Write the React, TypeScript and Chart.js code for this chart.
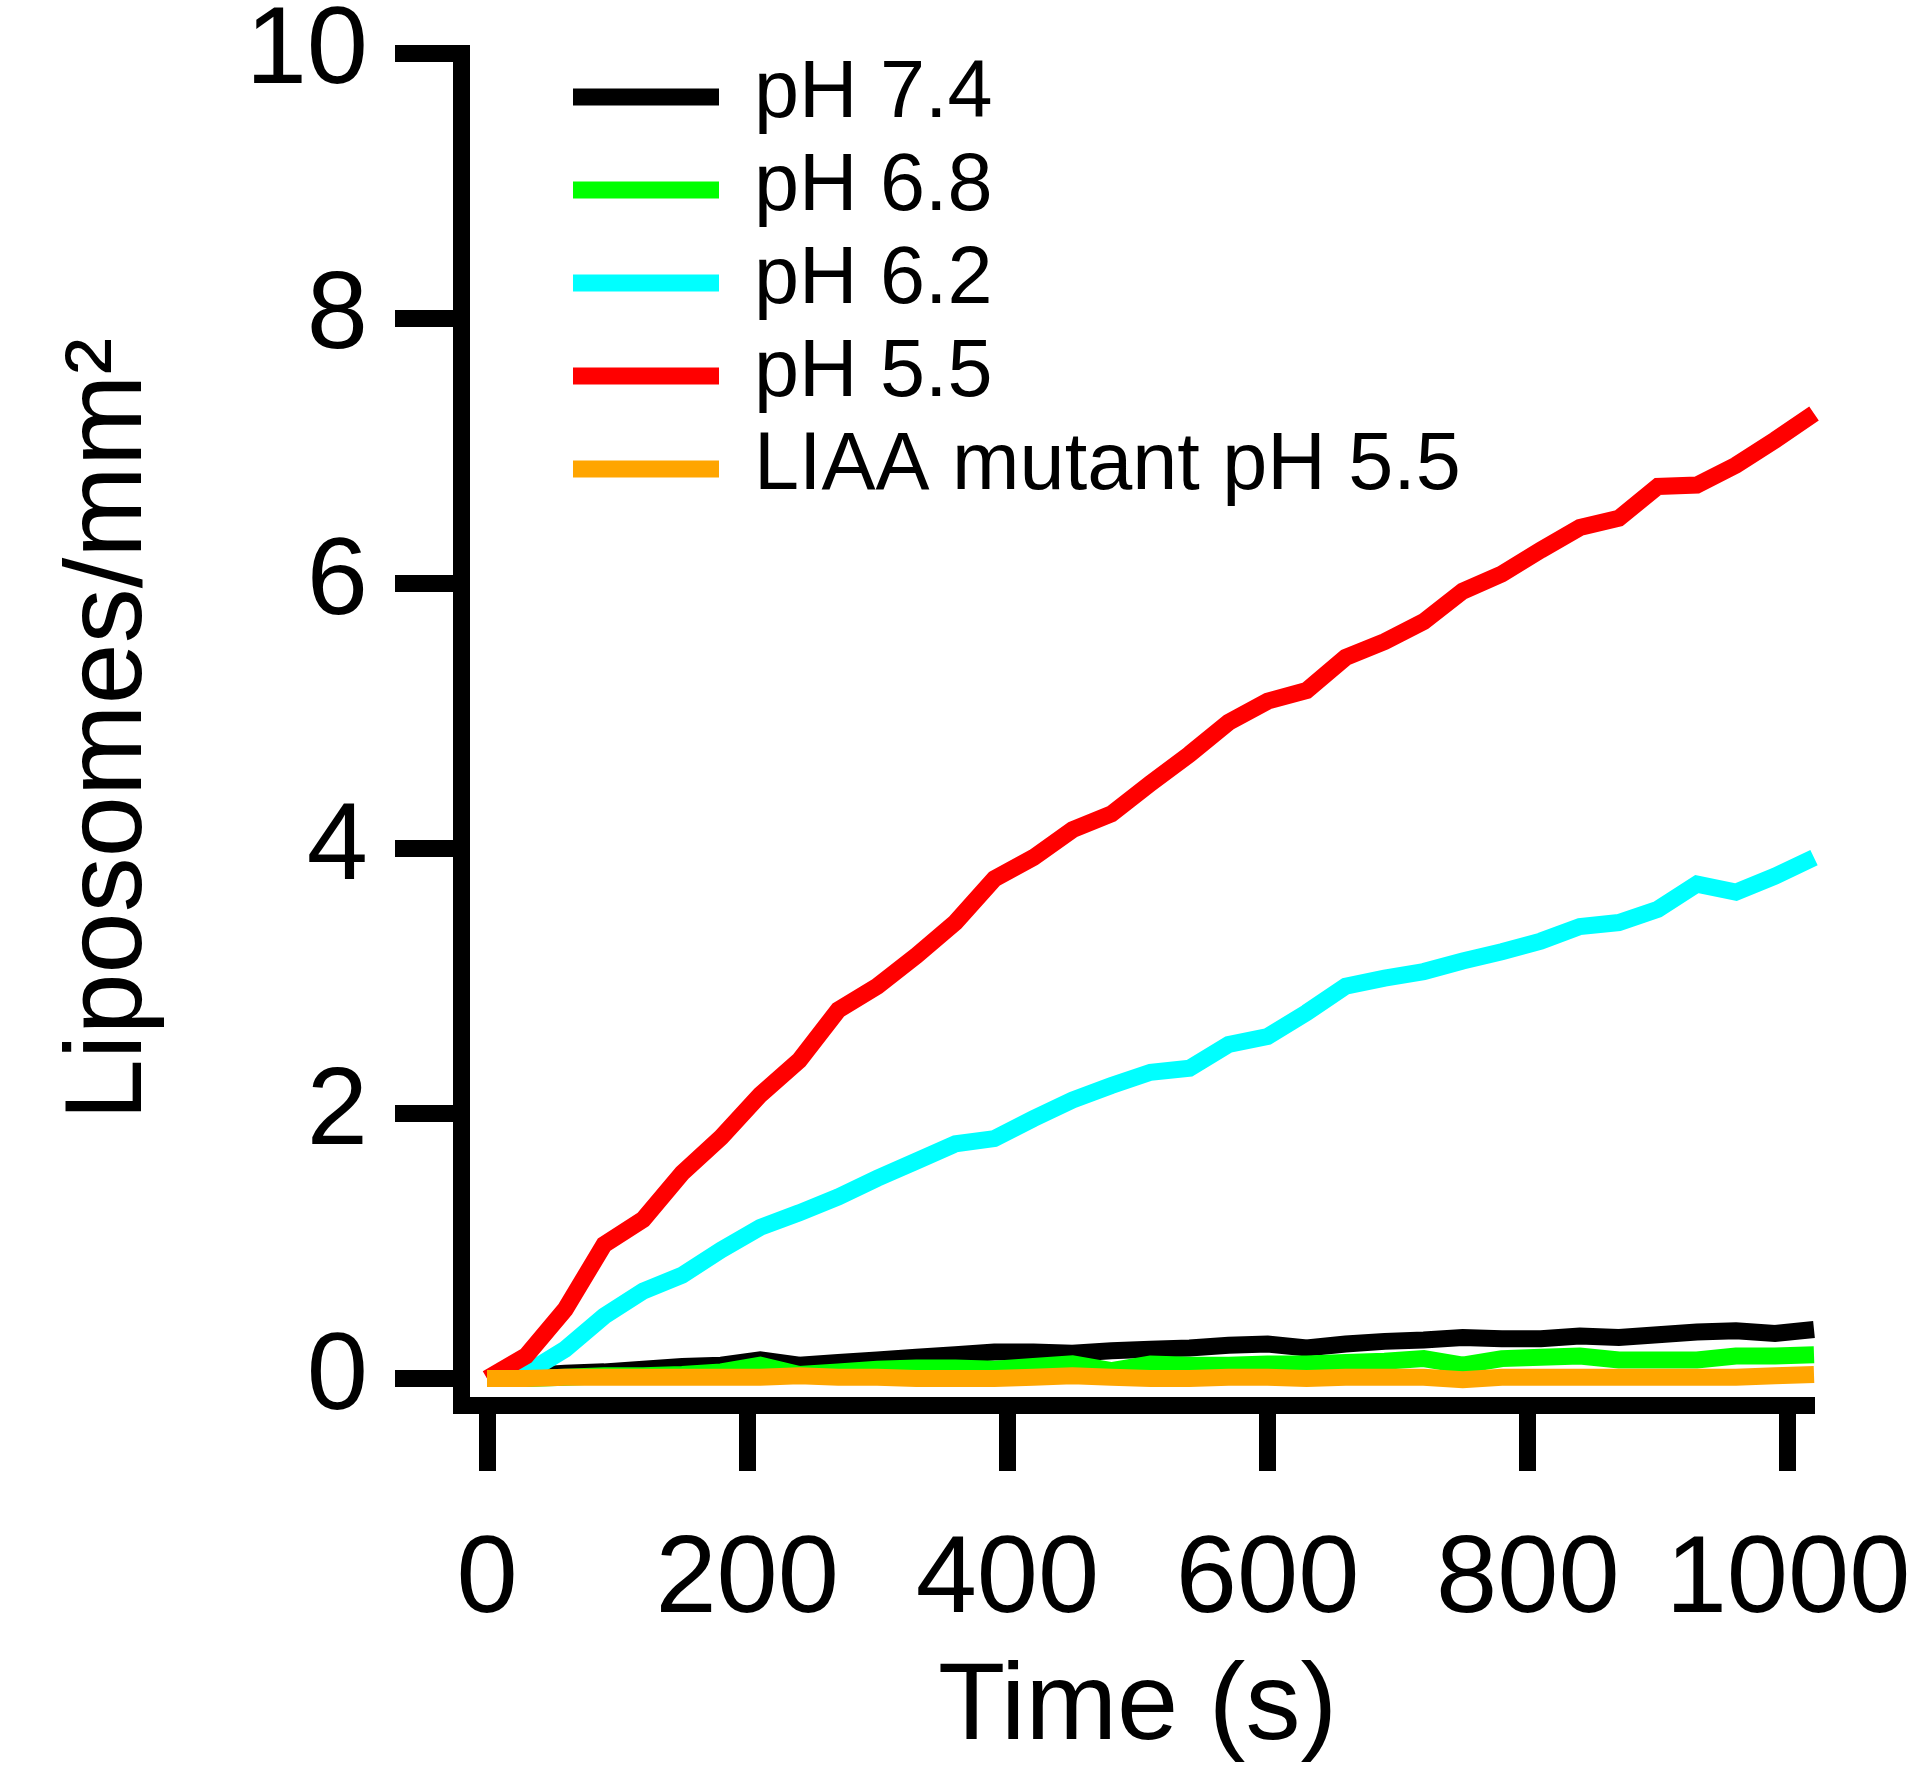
import React, { useEffect, useRef } from "react";
import { Chart, registerables } from "chart.js";

Chart.register(...registerables);

// ---- Data ----
const timeSeconds = [
  0, 30, 60, 90, 120, 150, 180, 210, 240, 270, 300, 330, 360, 390, 420, 450, 480, 510,
  540, 570, 600, 630, 660, 690, 720, 750, 780, 810, 840, 870, 900, 930, 960, 990, 1020,
];

const ph74 = [
  0, 0.02, 0.04, 0.05, 0.07, 0.09, 0.1, 0.14, 0.1, 0.12, 0.14, 0.16, 0.18, 0.2, 0.2, 0.19, 0.21, 0.22,
  0.23, 0.25, 0.26, 0.23, 0.26, 0.28, 0.29, 0.31, 0.3, 0.3, 0.32, 0.31, 0.33, 0.35, 0.36, 0.34, 0.37,
];

const ph68 = [
  0, 0, 0.01, 0.02, 0.02, 0.03, 0.05, 0.1, 0.03, 0.05, 0.07, 0.08, 0.08, 0.07, 0.09, 0.11, 0.06, 0.11,
  0.1, 0.1, 0.11, 0.11, 0.12, 0.13, 0.15, 0.1, 0.15, 0.16, 0.17, 0.14, 0.14, 0.14, 0.17, 0.17, 0.18,
];

const ph62 = [
  0, 0.04, 0.22, 0.47, 0.66, 0.78, 0.97, 1.14, 1.25, 1.37, 1.51, 1.64, 1.77, 1.81, 1.96, 2.1, 2.21, 2.31,
  2.34, 2.52, 2.58, 2.76, 2.96, 3.02, 3.07, 3.15, 3.22, 3.3, 3.41, 3.44, 3.54, 3.73, 3.67, 3.79, 3.93,
];

const ph55 = [
  0, 0.17, 0.52, 1.01, 1.2, 1.55, 1.82, 2.14, 2.4, 2.78, 2.96, 3.19, 3.44, 3.77, 3.93, 4.14, 4.26, 4.49,
  4.71, 4.95, 5.11, 5.19, 5.44, 5.56, 5.71, 5.94, 6.07, 6.25, 6.42, 6.49, 6.73, 6.74, 6.89, 7.08, 7.28,
];

const liaaPh55 = [
  0, 0, 0.01, 0.01, 0.01, 0.01, 0.01, 0.01, 0.02, 0.01, 0.01, 0, 0, 0, 0.01, 0.02, 0.01, 0,
  0, 0.01, 0.01, 0, 0.01, 0.01, 0.01, -0.01, 0.01, 0.01, 0.01, 0.01, 0.01, 0.01, 0.01, 0.02, 0.03,
];

const seriesLabels = ["pH 7.4", "pH 6.8", "pH 6.2", "pH 5.5", "LIAA mutant pH 5.5"];
const seriesValues = [ph74, ph68, ph62, ph55, liaaPh55];
const seriesColors = ["#000000", "#00ff00", "#00ffff", "#ff0000", "#ffa500"];

const xTickValues = [0, 200, 400, 600, 800, 1000];
const yTickValues = [0, 2, 4, 6, 8, 10];

const xTitle = "Time (s)";
const yTitle = "Liposomes/mm\u00B2";

const FONT = '"Liberation Sans", Arial, Helvetica, sans-serif';

const insideLegend = {
  id: "insideLegend",
  afterDatasetsDraw(chart: any) {
    const { ctx, chartArea } = chart;
    ctx.save();
    chart.data.datasets.forEach((ds: any, i: number) => {
      const y = chartArea.top + 44 + i * 93;
      const x0 = chartArea.left + 112;
      ctx.strokeStyle = ds.borderColor;
      ctx.lineWidth = 17;
      ctx.lineCap = "butt";
      ctx.beginPath();
      ctx.moveTo(x0, y);
      ctx.lineTo(x0 + 146, y);
      ctx.stroke();
      ctx.fillStyle = "#000";
      ctx.font = `81px ${FONT}`;
      ctx.textBaseline = "middle";
      ctx.textAlign = "left";
      ctx.fillText(ds.label, x0 + 181, y - 2);
    });
    ctx.restore();
  },
};

export default function App() {
  const canvasRef = useRef<HTMLCanvasElement | null>(null);

  useEffect(() => {
    const canvas = canvasRef.current;
    if (!canvas) return;
    Chart.defaults.font.family = FONT;
    Chart.defaults.color = "#000";

    const datasets = seriesLabels.map((label, i) => ({
      label,
      data: timeSeconds.map((t, j) => ({ x: t, y: seriesValues[i][j] })),
      borderColor: seriesColors[i],
      backgroundColor: seriesColors[i],
      borderWidth: 17,
      pointRadius: 0,
      pointHoverRadius: 0,
      tension: 0,
      fill: false,
      clip: false as any,
      order: seriesLabels.length - 1 - i,
    }));

    const axisCommon = {
      grid: {
        display: true,
        drawOnChartArea: false,
        drawTicks: true,
        tickLength: 66,
        tickWidth: 17,
        tickColor: "#000",
        lineWidth: 1,
        color: "#000",
      },
      border: { display: true, color: "#000", width: 17 },
    };

    const chart = new Chart(canvas, {
      type: "line",
      data: { datasets },
      plugins: [insideLegend],
      options: {
        responsive: false,
        animation: false,
        devicePixelRatio: 1,
        layout: { padding: { top: 53, right: 106, bottom: 0, left: 0 } },
        plugins: {
          legend: { display: false },
          tooltip: { enabled: false },
          title: { display: false },
        },
        scales: {
          x: {
            type: "linear",
            min: -20,
            max: 1020,
            ...axisCommon,
            afterBuildTicks: (s: any) => {
              s.ticks = xTickValues.map((v) => ({ value: v }));
            },
            afterFit: (s: any) => {
              s.height = 372;
              s.paddingLeft = 0;
              s.paddingRight = 0;
            },
            ticks: {
              color: "#000",
              font: { family: FONT, size: 110, lineHeight: 1 },
              padding: 56,
              maxRotation: 0,
              minRotation: 0,
              autoSkip: false,
              callback: (v: any) => String(v),
            },
            title: {
              display: true,
              text: xTitle,
              color: "#000",
              font: { family: FONT, size: 110, lineHeight: 1 },
              padding: { top: 0, bottom: 13 },
            },
          },
          y: {
            type: "linear",
            min: -0.2,
            max: 10,
            ...axisCommon,
            afterBuildTicks: (s: any) => {
              s.ticks = yTickValues.map((v) => ({ value: v }));
            },
            afterFit: (s: any) => {
              s.width = 461;
              s.paddingTop = 0;
              s.paddingBottom = 0;
            },
            ticks: {
              color: "#000",
              font: { family: FONT, size: 110, lineHeight: 1 },
              padding: 27,
              autoSkip: false,
              callback: (v: any) => String(v),
            },
            title: {
              display: true,
              text: yTitle,
              color: "#000",
              font: { family: FONT, size: 110, lineHeight: 1 },
              padding: { top: 56, bottom: 0 },
            },
          },
        },
      } as any,
    });

    return () => chart.destroy();
  }, []);

  return (
    <div style={{ position: "absolute", left: 0, top: 0, width: 1920, height: 1777, background: "#fff" }}>
      <canvas ref={canvasRef} width={1920} height={1777} style={{ display: "block", width: 1920, height: 1777 }} />
    </div>
  );
}
